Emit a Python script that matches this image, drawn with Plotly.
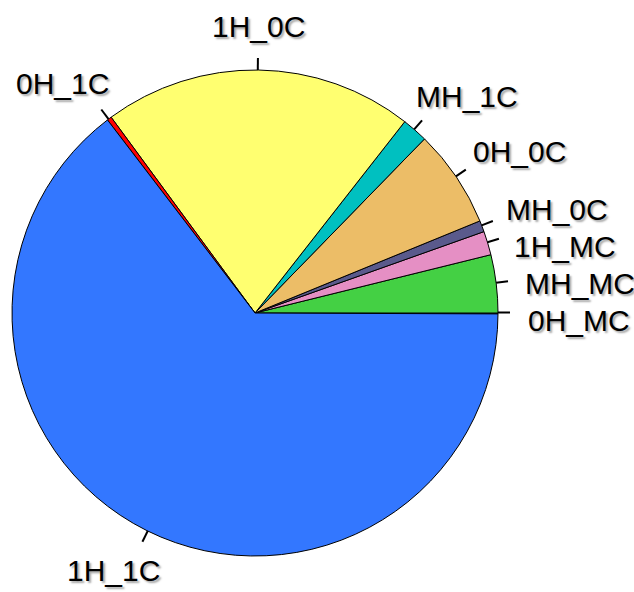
import math
import plotly.graph_objects as go

# ---- data ----
labels = ["0H_MC", "MH_MC", "1H_MC", "MH_0C", "0H_0C", "MH_1C", "1H_0C", "0H_1C", "1H_1C"]
values = [0.06, 3.86, 1.58, 0.75, 6.53, 1.72, 20.67, 0.30, 64.6]
colors = ["#3399ff", "#44d044", "#e58fc4", "#5a5a8c", "#ecbd67", "#00c0c0", "#ffff70", "#ff0000", "#3377ff"]

W, H = 634, 592
ML, MT = 12, 70
D = 486  # pie domain size in px
R = D / 2
FONT_SIZE = 30
TICK = 12
LABEL_RX = 273     # horizontal label offset radius (px), plus half text width
LABEL_RY = 287     # vertical label offset radius (px)
MIN_SP = 37        # min vertical spacing for stacked right-side labels

fig = go.Figure(go.Pie(
    labels=labels, values=values, sort=False, direction="counterclockwise",
    rotation=90, textinfo="none", hoverinfo="label+percent",
    marker=dict(colors=colors, line=dict(color="black", width=1)),
    showlegend=False,
))

# Arial advance widths (em) for label width estimates
adv = {"0": 0.556, "1": 0.556, "H": 0.722, "M": 0.833, "C": 0.722, "_": 0.556}

def to_paper(dx, dy_up):
    return 0.5 + dx / D, 0.5 + dy_up / D

total = sum(values)
cum = 0.0
items = []
shapes = []
for lab, v in zip(labels, values):
    mid = 2 * math.pi * (cum + v / 2) / total
    cum += v
    c, s = math.cos(mid), math.sin(mid)
    x0, y0 = to_paper(R * c, R * s)
    x1, y1 = to_paper((R + TICK) * c, (R + TICK) * s)
    shapes.append(dict(type="line", xref="paper", yref="paper", x0=x0, y0=y0, x1=x1, y1=y1,
                       line=dict(color="black", width=2)))
    w = sum(adv[ch] for ch in lab) * FONT_SIZE
    cx = (LABEL_RX + w / 2) * c
    cy = LABEL_RY * s
    items.append(dict(lab=lab, cx=cx, cy=cy, right=c > 0.8))

# resolve overlaps on the right side (top-down)
right_side = sorted([it for it in items if it["right"]], key=lambda d: -d["cy"])
for i in range(1, len(right_side)):
    prev = right_side[i - 1]
    if prev["cy"] - right_side[i]["cy"] < MIN_SP:
        right_side[i]["cy"] = prev["cy"] - MIN_SP

annotations = []
for it in items:
    px, py = to_paper(it["cx"], it["cy"])
    annotations.append(dict(
        text=it["lab"], x=px, y=py, xref="paper", yref="paper",
        xanchor="center", yanchor="middle", showarrow=False,
        font=dict(family="Liberation Sans, Arial, sans-serif", size=FONT_SIZE, color="black",
                  shadow="2px 2px 2px rgba(0,0,0,0.35)"),
    ))

fig.update_layout(
    width=W, height=H,
    margin=dict(l=ML, r=W - ML - D, t=MT, b=H - MT - D, pad=0),
    paper_bgcolor="white", plot_bgcolor="white",
    shapes=shapes, annotations=annotations,
)
fig.write_html("out.html", config={"displayModeBar": False},
               post_script="document.body.style.margin='0';document.body.style.overflow='hidden';")
